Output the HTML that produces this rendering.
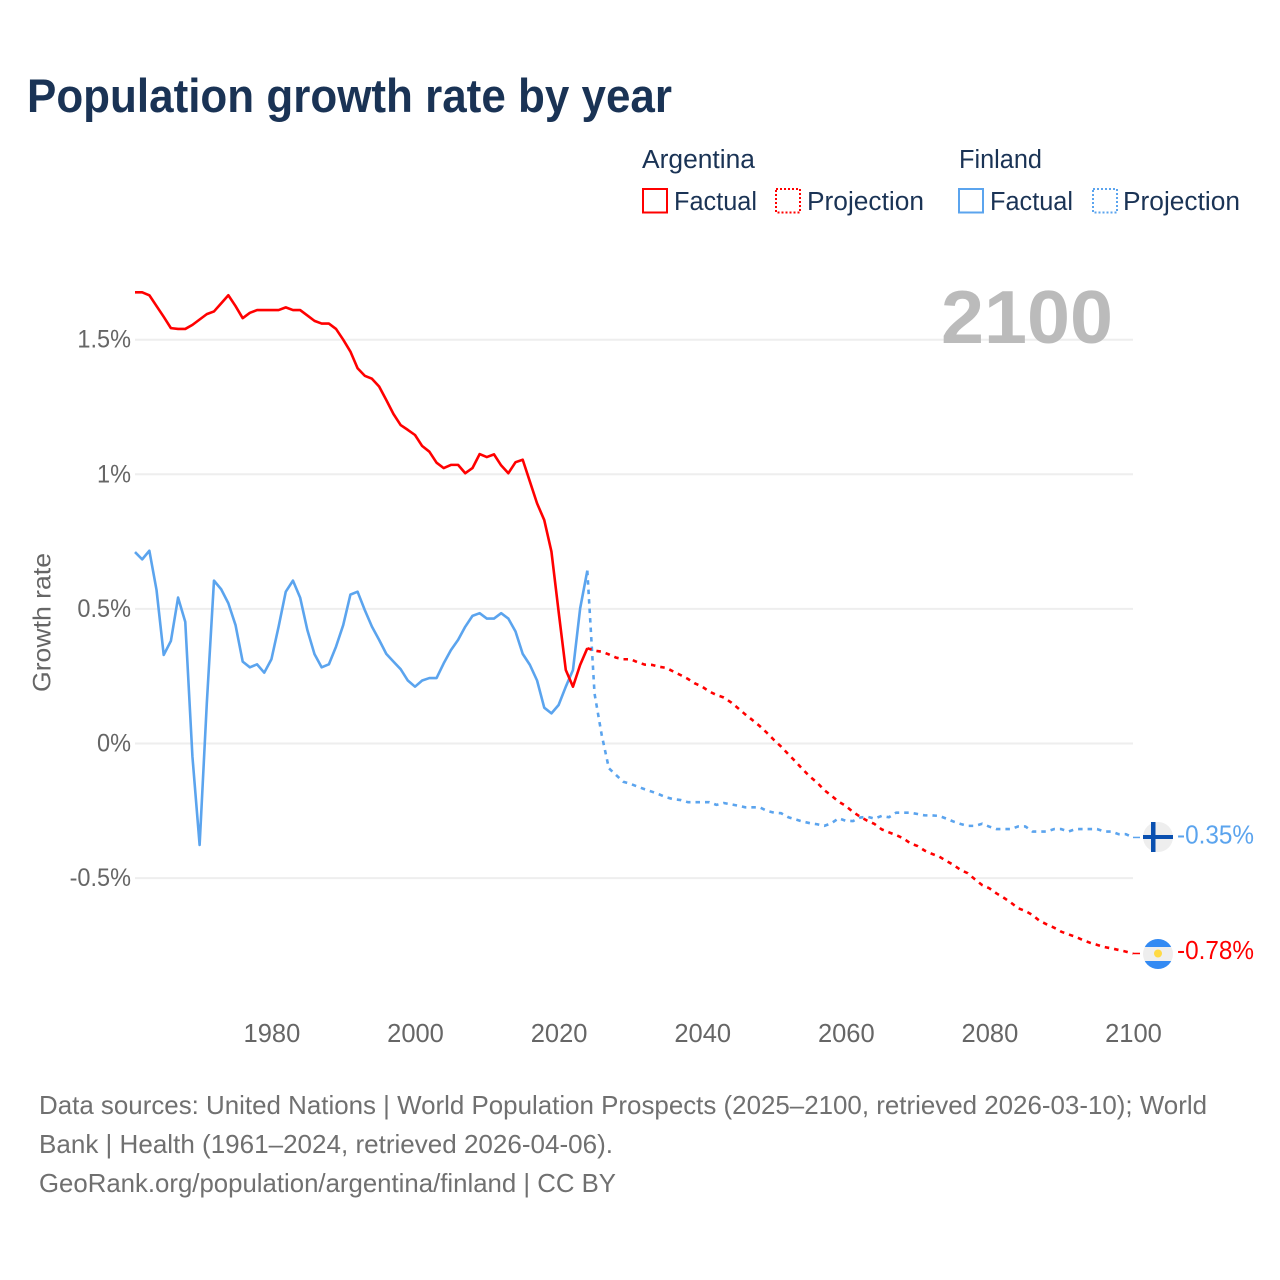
<!DOCTYPE html>
<html lang="en">
<head>
<meta charset="utf-8">
<title>Population growth rate by year</title>
<style>
html,body{margin:0;padding:0;background:#fff;width:1280px;height:1280px;overflow:hidden}
svg{display:block}
text{font-family:"Liberation Sans",sans-serif}
</style>
</head>
<body>
<svg id="chart" width="1280" height="1280" viewBox="0 0 1280 1280" xmlns="http://www.w3.org/2000/svg">
  <rect x="0" y="0" width="1280" height="1280" fill="#fff"/>
  <text x="27" y="112" font-size="47" font-weight="700" fill="#1a3355" textLength="645" lengthAdjust="spacingAndGlyphs">Population growth rate by year</text>

  <g>
    <text x="642" y="168" font-size="25.5" fill="#1a3355" textLength="113" lengthAdjust="spacingAndGlyphs">Argentina</text>
    <rect x="643" y="189" width="24" height="23.5" fill="none" stroke="#ff0000" stroke-width="2"/>
    <text x="674" y="210" font-size="25.5" fill="#1a3355" textLength="83" lengthAdjust="spacingAndGlyphs">Factual</text>
    <rect x="776" y="189" width="24" height="23.5" fill="none" stroke="#ff0000" stroke-width="2" stroke-dasharray="2 2"/>
    <text x="807" y="210" font-size="25.5" fill="#1a3355" textLength="117" lengthAdjust="spacingAndGlyphs">Projection</text>
    <text x="959" y="168" font-size="25.5" fill="#1a3355" textLength="83" lengthAdjust="spacingAndGlyphs">Finland</text>
    <rect x="959" y="189" width="24" height="23.5" fill="none" stroke="#5ba4ee" stroke-width="2"/>
    <text x="990" y="210" font-size="25.5" fill="#1a3355" textLength="83" lengthAdjust="spacingAndGlyphs">Factual</text>
    <rect x="1093" y="189" width="24" height="23.5" fill="none" stroke="#5ba4ee" stroke-width="2" stroke-dasharray="2 2"/>
    <text x="1123" y="210" font-size="25.5" fill="#1a3355" textLength="117" lengthAdjust="spacingAndGlyphs">Projection</text>
  </g>

  <g id="grid"></g>
  <text x="941" y="343" font-size="75" font-weight="700" fill="#bbbbbb" textLength="172" lengthAdjust="spacingAndGlyphs">2100</text>
  <g id="y-ticks"></g>
  <g id="x-ticks"></g>
  <text transform="translate(50.5,622.5) rotate(-90)" text-anchor="middle" font-size="25" fill="#666666" textLength="139" lengthAdjust="spacingAndGlyphs">Growth rate</text>
  <g id="series"></g>

  <g>
    <circle cx="1158" cy="837" r="15" fill="#eeeeee"/>
    <rect x="1151" y="822" width="4.5" height="30" fill="#0a50b0"/>
    <rect x="1143" y="835" width="30" height="4" fill="#0a50b0"/>
  </g>
  <g>
    <clipPath id="arg-clip"><circle cx="1158" cy="954" r="15"/></clipPath>
    <g clip-path="url(#arg-clip)">
      <rect x="1143" y="939" width="30" height="8" fill="#338af3"/>
      <rect x="1143" y="947" width="30" height="14" fill="#eeeeee"/>
      <rect x="1143" y="961" width="30" height="8" fill="#338af3"/>
    </g>
    <circle cx="1158" cy="953.5" r="4" fill="#ffda44"/>
  </g>

  <g id="end-labels"></g>

  <g>
    <text x="39" y="1114" font-size="26" fill="#707070" textLength="1168" lengthAdjust="spacingAndGlyphs">Data sources: United Nations | World Population Prospects (2025–2100, retrieved 2026-03-10); World</text>
    <text x="39" y="1153" font-size="26" fill="#707070" textLength="574" lengthAdjust="spacingAndGlyphs">Bank | Health (1961–2024, retrieved 2026-04-06).</text>
    <text x="39" y="1192" font-size="26" fill="#707070" textLength="577" lengthAdjust="spacingAndGlyphs">GeoRank.org/population/argentina/finland | CC BY</text>
  </g>
</svg>

<script>
const factualYears = [1961,1962,1963,1964,1965,1966,1967,1968,1969,1970,1971,1972,1973,1974,1975,1976,1977,1978,1979,1980,1981,1982,1983,1984,1985,1986,1987,1988,1989,1990,1991,1992,1993,1994,1995,1996,1997,1998,1999,2000,2001,2002,2003,2004,2005,2006,2007,2008,2009,2010,2011,2012,2013,2014,2015,2016,2017,2018,2019,2020,2021,2022,2023,2024];
const projectionYears = [2024,2025,2026,2027,2028,2029,2030,2031,2032,2033,2034,2035,2036,2037,2038,2039,2040,2041,2042,2043,2044,2045,2046,2047,2048,2049,2050,2051,2052,2053,2054,2055,2056,2057,2058,2059,2060,2061,2062,2063,2064,2065,2066,2067,2068,2069,2070,2071,2072,2073,2074,2075,2076,2077,2078,2079,2080,2081,2082,2083,2084,2085,2086,2087,2088,2089,2090,2091,2092,2093,2094,2095,2096,2097,2098,2099,2100];
const argentinaFactual = [1.676,1.676,1.665,1.625,1.585,1.543,1.54,1.54,1.555,1.575,1.595,1.605,1.635,1.665,1.625,1.58,1.6,1.61,1.61,1.61,1.61,1.62,1.61,1.61,1.59,1.57,1.56,1.56,1.54,1.5,1.456,1.394,1.366,1.355,1.326,1.276,1.224,1.183,1.165,1.146,1.105,1.084,1.043,1.023,1.035,1.035,1.004,1.023,1.075,1.064,1.074,1.033,1.004,1.045,1.054,0.973,0.892,0.83,0.713,0.49,0.273,0.211,0.292,0.354];
const finlandFactual = [0.711,0.684,0.716,0.57,0.329,0.381,0.542,0.452,-0.049,-0.377,0.149,0.605,0.573,0.521,0.44,0.304,0.283,0.294,0.263,0.313,0.434,0.564,0.605,0.542,0.422,0.332,0.283,0.294,0.36,0.44,0.553,0.564,0.496,0.434,0.385,0.333,0.304,0.276,0.234,0.211,0.234,0.243,0.243,0.298,0.347,0.385,0.434,0.474,0.484,0.464,0.464,0.484,0.464,0.416,0.333,0.292,0.234,0.133,0.112,0.143,0.211,0.273,0.502,0.642];
const argentinaProjection = [0.354,0.345,0.341,0.331,0.319,0.313,0.313,0.302,0.293,0.292,0.285,0.281,0.267,0.254,0.24,0.223,0.211,0.193,0.18,0.171,0.153,0.131,0.108,0.087,0.065,0.04,0.013,-0.012,-0.04,-0.067,-0.096,-0.123,-0.145,-0.173,-0.194,-0.216,-0.232,-0.254,-0.272,-0.287,-0.299,-0.319,-0.33,-0.34,-0.352,-0.371,-0.381,-0.398,-0.41,-0.42,-0.436,-0.451,-0.47,-0.482,-0.505,-0.526,-0.538,-0.557,-0.573,-0.591,-0.612,-0.622,-0.637,-0.659,-0.672,-0.684,-0.699,-0.709,-0.718,-0.73,-0.74,-0.748,-0.756,-0.761,-0.767,-0.773,-0.78];
const finlandProjection = [0.642,0.186,0.032,-0.092,-0.117,-0.142,-0.15,-0.16,-0.17,-0.179,-0.189,-0.2,-0.207,-0.21,-0.218,-0.218,-0.218,-0.218,-0.228,-0.221,-0.226,-0.231,-0.237,-0.237,-0.237,-0.25,-0.257,-0.259,-0.274,-0.282,-0.29,-0.296,-0.3,-0.306,-0.296,-0.278,-0.287,-0.288,-0.275,-0.272,-0.279,-0.269,-0.274,-0.257,-0.257,-0.257,-0.262,-0.267,-0.267,-0.269,-0.279,-0.29,-0.299,-0.306,-0.306,-0.298,-0.309,-0.318,-0.318,-0.318,-0.308,-0.308,-0.327,-0.327,-0.327,-0.318,-0.318,-0.327,-0.318,-0.318,-0.318,-0.318,-0.327,-0.327,-0.337,-0.337,-0.349];
const yTickValues = [1.5,1,0.5,0,-0.5];
const yTickLabels = ["1.5%","1%","0.5%","0%","-0.5%"];
const xTickYears = [1980,2000,2020,2040,2060,2080,2100];
const endLabelTexts = ["-0.35%","-0.78%"];

const SVG_NS = "http://www.w3.org/2000/svg";
const xScale = function (year) { return 135 + (year - 1961) * (998 / 139); };
const yScale = function (value) { return 743.5 - value * 269.2; };
const grid = document.getElementById("grid");
const yTicks = document.getElementById("y-ticks");
const xTicks = document.getElementById("x-ticks");
const seriesGroup = document.getElementById("series");
const endLabels = document.getElementById("end-labels");

yTickValues.forEach(function (value, i) {
  const line = document.createElementNS(SVG_NS, "line");
  
  
  line.setAttribute("x1", 135);
  line.setAttribute("x2", 1133);
  line.setAttribute("y1", yScale(value));
  line.setAttribute("y2", yScale(value));
  line.setAttribute("stroke", "#eeeeee");
  line.setAttribute("stroke-width", 2);
  grid.appendChild(line);

  const label = document.createElementNS(SVG_NS, "text");
  
  
  label.setAttribute("x", 131);
  label.setAttribute("y", yScale(value) + 8);
  label.setAttribute("text-anchor", "end");
  label.setAttribute("font-size", 25);
  label.setAttribute("fill", "#666666");
  label.textContent = yTickLabels[i];
  yTicks.appendChild(label);
  label.setAttribute("textLength", (label.getComputedTextLength() * 0.94).toFixed(1));
  label.setAttribute("lengthAdjust", "spacingAndGlyphs");
});

xTickYears.forEach(function (year) {
  const label = document.createElementNS(SVG_NS, "text");
  
  
  label.setAttribute("x", xScale(year) + 0.5);
  label.setAttribute("y", 1042);
  label.setAttribute("text-anchor", "middle");
  label.setAttribute("font-size", 25.5);
  label.setAttribute("fill", "#666666");
  label.textContent = year;
  xTicks.appendChild(label);
});

function drawSeries(years, values, color, dashed, name) {
  const path = document.createElementNS(SVG_NS, "polyline");
  
  
  path.setAttribute("points", values.map(function (v, i) {
    return xScale(years[i]).toFixed(2) + "," + yScale(v).toFixed(2);
  }).join(" "));
  path.setAttribute("fill", "none");
  path.setAttribute("stroke", color);
  path.setAttribute("stroke-width", 2.6);
  path.setAttribute("stroke-linejoin", "round");
  if (dashed) path.setAttribute("stroke-dasharray", "4.5 5");
  seriesGroup.appendChild(path);
}

drawSeries(projectionYears, finlandProjection, "#5ba4ee", true, "finland-projection-line");
drawSeries(projectionYears, argentinaProjection, "#ff0000", true, "argentina-projection-line");
drawSeries(factualYears, finlandFactual, "#5ba4ee", false, "finland-factual-line");
drawSeries(factualYears, argentinaFactual, "#ff0000", false, "argentina-factual-line");

function drawEnd(value, text, color, labelY, name) {
  const lead = document.createElementNS(SVG_NS, "line");
  
  
  lead.setAttribute("x1", xScale(2100));
  lead.setAttribute("x2", xScale(2100) + 7);
  lead.setAttribute("y1", yScale(value));
  lead.setAttribute("y2", yScale(value));
  lead.setAttribute("stroke", color);
  lead.setAttribute("stroke-width", 1.5);
  endLabels.appendChild(lead);

  const label = document.createElementNS(SVG_NS, "text");
  
  
  label.setAttribute("x", 1177);
  label.setAttribute("y", labelY);
  label.setAttribute("font-size", 25.5);
  label.setAttribute("fill", color);
  label.setAttribute("textLength", 77);
  label.setAttribute("lengthAdjust", "spacingAndGlyphs");
  label.textContent = text;
  endLabels.appendChild(label);
}

drawEnd(finlandProjection[finlandProjection.length - 1], endLabelTexts[0], "#5ba4ee", 843.5, "finland-end");
drawEnd(argentinaProjection[argentinaProjection.length - 1], endLabelTexts[1], "#ff0000", 959, "argentina-end");
</script>
</body>
</html>
